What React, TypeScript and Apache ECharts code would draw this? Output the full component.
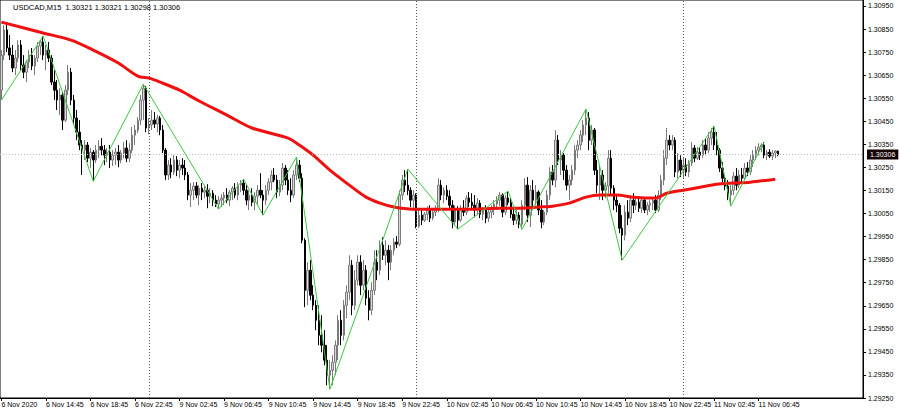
import React, { useEffect, useRef } from "react";
import * as echarts from "echarts";

const chartTitle = "USDCAD,M15  1.30321 1.30321 1.30298 1.30306";

const timeLabels = [
  "6 Nov 2020", "6 Nov 14:45", "6 Nov 18:45", "6 Nov 22:45",
  "9 Nov 02:45", "9 Nov 06:45", "9 Nov 10:45", "9 Nov 14:45", "9 Nov 18:45", "9 Nov 22:45",
  "10 Nov 02:45", "10 Nov 06:45", "10 Nov 10:45", "10 Nov 14:45", "10 Nov 18:45", "10 Nov 22:45",
  "11 Nov 02:45", "11 Nov 06:45",
];
const barsPerLabel = 16;
const totalSlots = 310; // 280 bars + empty chart shift on the right

const priceTicks = [
  1.2925, 1.2935, 1.2945, 1.2955, 1.2965, 1.2975, 1.2985, 1.2995, 1.3005,
  1.3015, 1.3025, 1.3035, 1.3045, 1.3055, 1.3065, 1.3075, 1.3085, 1.3095,
];
const currentPrice = 1.30306;
const daySeparators = [53, 149, 245];

// [open, close, low, high]
const candles: number[][] = [
  [1.30585, 1.30737, 1.30542, 1.30759], [1.30737, 1.30846, 1.30716, 1.30867], [1.30846, 1.30768, 1.30750, 1.30872],
  [1.30768, 1.30737, 1.30716, 1.30824], [1.30737, 1.30681, 1.30663, 1.30781], [1.30681, 1.30724, 1.30650, 1.30759],
  [1.30724, 1.30781, 1.30707, 1.30802], [1.30781, 1.30694, 1.30672, 1.30802], [1.30694, 1.30663, 1.30637, 1.30737],
  [1.30663, 1.30707, 1.30620, 1.30716], [1.30707, 1.30737, 1.30681, 1.30759], [1.30737, 1.30690, 1.30672, 1.30768],
  [1.30690, 1.30724, 1.30650, 1.30737], [1.30724, 1.30776, 1.30707, 1.30794], [1.30776, 1.30794, 1.30737, 1.30802],
  [1.30794, 1.30737, 1.30716, 1.30820], [1.30737, 1.30759, 1.30672, 1.30781], [1.30759, 1.30724, 1.30707, 1.30794],
  [1.30724, 1.30620, 1.30607, 1.30737], [1.30620, 1.30585, 1.30542, 1.30672], [1.30585, 1.30542, 1.30499, 1.30629],
  [1.30542, 1.30564, 1.30477, 1.30594], [1.30564, 1.30455, 1.30412, 1.30577], [1.30455, 1.30585, 1.30447, 1.30607],
  [1.30585, 1.30663, 1.30564, 1.30694], [1.30663, 1.30542, 1.30520, 1.30681], [1.30542, 1.30464, 1.30434, 1.30564],
  [1.30464, 1.30403, 1.30368, 1.30499], [1.30403, 1.30347, 1.30325, 1.30455], [1.30347, 1.30325, 1.30217, 1.30368],
  [1.30325, 1.30347, 1.30282, 1.30368], [1.30347, 1.30290, 1.30273, 1.30360], [1.30290, 1.30316, 1.30247, 1.30334],
  [1.30316, 1.30282, 1.30190, 1.30325], [1.30282, 1.30325, 1.30269, 1.30347], [1.30325, 1.30342, 1.30290, 1.30368],
  [1.30342, 1.30325, 1.30303, 1.30377], [1.30325, 1.30303, 1.30260, 1.30347], [1.30303, 1.30316, 1.30273, 1.30334],
  [1.30316, 1.30282, 1.30247, 1.30347], [1.30282, 1.30303, 1.30256, 1.30325], [1.30303, 1.30316, 1.30260, 1.30334],
  [1.30316, 1.30282, 1.30251, 1.30347], [1.30282, 1.30312, 1.30269, 1.30325], [1.30312, 1.30334, 1.30290, 1.30360],
  [1.30334, 1.30290, 1.30273, 1.30368], [1.30290, 1.30325, 1.30273, 1.30355], [1.30325, 1.30390, 1.30312, 1.30425],
  [1.30390, 1.30412, 1.30347, 1.30434], [1.30412, 1.30455, 1.30399, 1.30468], [1.30455, 1.30542, 1.30434, 1.30564],
  [1.30542, 1.30594, 1.30455, 1.30611], [1.30594, 1.30421, 1.30403, 1.30603], [1.30421, 1.30434, 1.30394, 1.30464],
  [1.30434, 1.30455, 1.30412, 1.30499], [1.30455, 1.30438, 1.30421, 1.30490], [1.30438, 1.30464, 1.30403, 1.30477],
  [1.30464, 1.30412, 1.30390, 1.30473], [1.30412, 1.30325, 1.30312, 1.30434], [1.30325, 1.30217, 1.30195, 1.30334],
  [1.30217, 1.30260, 1.30195, 1.30282], [1.30260, 1.30230, 1.30203, 1.30290], [1.30230, 1.30282, 1.30217, 1.30303],
  [1.30282, 1.30238, 1.30212, 1.30299], [1.30238, 1.30260, 1.30203, 1.30282], [1.30260, 1.30247, 1.30217, 1.30290],
  [1.30247, 1.30217, 1.30195, 1.30282], [1.30217, 1.30130, 1.30108, 1.30230], [1.30130, 1.30151, 1.30078, 1.30182],
  [1.30151, 1.30169, 1.30108, 1.30186], [1.30169, 1.30130, 1.30117, 1.30186], [1.30130, 1.30160, 1.30086, 1.30173],
  [1.30160, 1.30143, 1.30108, 1.30182], [1.30143, 1.30151, 1.30117, 1.30173], [1.30151, 1.30125, 1.30073, 1.30177],
  [1.30125, 1.30138, 1.30095, 1.30160], [1.30138, 1.30108, 1.30082, 1.30151], [1.30108, 1.30091, 1.30078, 1.30130],
  [1.30091, 1.30108, 1.30069, 1.30125], [1.30108, 1.30117, 1.30078, 1.30134], [1.30117, 1.30130, 1.30086, 1.30143],
  [1.30130, 1.30108, 1.30095, 1.30160], [1.30108, 1.30143, 1.30082, 1.30151], [1.30143, 1.30160, 1.30108, 1.30169],
  [1.30160, 1.30130, 1.30117, 1.30182], [1.30130, 1.30173, 1.30108, 1.30186], [1.30173, 1.30182, 1.30143, 1.30195],
  [1.30182, 1.30151, 1.30130, 1.30199], [1.30151, 1.30108, 1.30086, 1.30173], [1.30108, 1.30130, 1.30065, 1.30151],
  [1.30130, 1.30099, 1.30082, 1.30160], [1.30099, 1.30125, 1.30065, 1.30143], [1.30125, 1.30151, 1.30086, 1.30173],
  [1.30151, 1.30130, 1.30117, 1.30225], [1.30130, 1.30108, 1.30043, 1.30151], [1.30108, 1.30151, 1.30086, 1.30173],
  [1.30151, 1.30186, 1.30130, 1.30203], [1.30186, 1.30217, 1.30151, 1.30238], [1.30217, 1.30195, 1.30186, 1.30247],
  [1.30195, 1.30143, 1.30117, 1.30217], [1.30143, 1.30173, 1.30125, 1.30195], [1.30173, 1.30247, 1.30151, 1.30269],
  [1.30247, 1.30195, 1.30173, 1.30260], [1.30195, 1.30151, 1.30130, 1.30238], [1.30151, 1.30130, 1.30099, 1.30203],
  [1.30130, 1.30217, 1.30117, 1.30238], [1.30217, 1.30260, 1.30195, 1.30295], [1.30260, 1.30203, 1.30186, 1.30282],
  [1.30203, 1.29934, 1.29921, 1.30225], [1.29934, 1.29717, 1.29644, 1.29943], [1.29717, 1.29804, 1.29652, 1.29839],
  [1.29804, 1.29696, 1.29674, 1.29848], [1.29696, 1.29652, 1.29631, 1.29739], [1.29652, 1.29587, 1.29544, 1.29674],
  [1.29587, 1.29522, 1.29479, 1.29652], [1.29522, 1.29479, 1.29448, 1.29609], [1.29479, 1.29414, 1.29392, 1.29544],
  [1.29414, 1.29349, 1.29305, 1.29479], [1.29349, 1.29370, 1.29288, 1.29414], [1.29370, 1.29405, 1.29305, 1.29435],
  [1.29405, 1.29479, 1.29349, 1.29500], [1.29479, 1.29587, 1.29414, 1.29609], [1.29587, 1.29522, 1.29479, 1.29631],
  [1.29522, 1.29652, 1.29500, 1.29674], [1.29652, 1.29709, 1.29596, 1.29739], [1.29709, 1.29826, 1.29674, 1.29869],
  [1.29826, 1.29652, 1.29609, 1.29848], [1.29652, 1.29761, 1.29631, 1.29804], [1.29761, 1.29839, 1.29739, 1.29869],
  [1.29839, 1.29739, 1.29696, 1.29869], [1.29739, 1.29804, 1.29717, 1.29848], [1.29804, 1.29683, 1.29652, 1.29826],
  [1.29683, 1.29631, 1.29587, 1.29717], [1.29631, 1.29717, 1.29609, 1.29752], [1.29717, 1.29839, 1.29696, 1.29891],
  [1.29839, 1.29804, 1.29761, 1.29891], [1.29804, 1.29913, 1.29783, 1.29934], [1.29913, 1.29869, 1.29848, 1.29947],
  [1.29869, 1.29891, 1.29826, 1.29934], [1.29891, 1.29839, 1.29761, 1.29913], [1.29839, 1.29891, 1.29804, 1.29913],
  [1.29891, 1.29926, 1.29869, 1.29943], [1.29926, 1.29917, 1.29900, 1.29952], [1.29917, 1.30130, 1.29908, 1.30151],
  [1.30130, 1.30195, 1.30108, 1.30217], [1.30195, 1.30173, 1.30143, 1.30238], [1.30173, 1.30151, 1.30130, 1.30243],
  [1.30151, 1.30108, 1.30078, 1.30164], [1.30108, 1.30130, 1.30073, 1.30151], [1.30130, 1.29995, 1.29986, 1.30138],
  [1.29995, 1.30043, 1.29986, 1.30065], [1.30043, 1.30021, 1.30000, 1.30065], [1.30021, 1.30047, 1.30013, 1.30056],
  [1.30047, 1.30065, 1.30021, 1.30082], [1.30065, 1.30030, 1.30013, 1.30086], [1.30030, 1.30056, 1.30021, 1.30073],
  [1.30056, 1.30073, 1.30039, 1.30086], [1.30073, 1.30173, 1.30056, 1.30203], [1.30173, 1.30130, 1.30108, 1.30195],
  [1.30130, 1.30151, 1.30095, 1.30164], [1.30151, 1.30125, 1.30108, 1.30173], [1.30125, 1.30086, 1.30065, 1.30151],
  [1.30086, 1.30013, 1.29986, 1.30108], [1.30013, 1.30065, 1.30000, 1.30086], [1.30065, 1.30021, 1.29982, 1.30082],
  [1.30021, 1.30073, 1.30013, 1.30086], [1.30073, 1.30056, 1.30039, 1.30108], [1.30056, 1.30117, 1.30043, 1.30130],
  [1.30117, 1.30099, 1.30078, 1.30143], [1.30099, 1.30086, 1.30065, 1.30138], [1.30086, 1.30065, 1.30034, 1.30130],
  [1.30065, 1.30095, 1.30043, 1.30117], [1.30095, 1.30047, 1.30030, 1.30108], [1.30047, 1.30065, 1.30021, 1.30078],
  [1.30065, 1.30030, 1.30008, 1.30086], [1.30030, 1.30056, 1.30013, 1.30073], [1.30056, 1.30069, 1.30030, 1.30086],
  [1.30069, 1.30091, 1.30043, 1.30108], [1.30091, 1.30108, 1.30065, 1.30125], [1.30108, 1.30130, 1.30082, 1.30143],
  [1.30130, 1.30056, 1.30034, 1.30138], [1.30056, 1.30117, 1.30043, 1.30130], [1.30117, 1.30099, 1.30086, 1.30147],
  [1.30099, 1.30047, 1.30030, 1.30117], [1.30047, 1.30021, 1.30000, 1.30082], [1.30021, 1.30043, 1.30004, 1.30065],
  [1.30043, 1.30004, 1.29986, 1.30056], [1.30004, 1.30086, 1.29982, 1.30108], [1.30086, 1.30173, 1.30065, 1.30203],
  [1.30173, 1.30043, 1.30013, 1.30208], [1.30043, 1.30151, 1.29991, 1.30173], [1.30151, 1.30108, 1.30065, 1.30195],
  [1.30108, 1.30143, 1.30086, 1.30173], [1.30143, 1.30065, 1.30043, 1.30151], [1.30065, 1.30013, 1.29986, 1.30108],
  [1.30013, 1.30056, 1.30000, 1.30065], [1.30056, 1.30130, 1.30043, 1.30151], [1.30130, 1.30230, 1.30108, 1.30251],
  [1.30230, 1.30195, 1.30173, 1.30260], [1.30195, 1.30368, 1.30164, 1.30412], [1.30368, 1.30282, 1.30260, 1.30390],
  [1.30282, 1.30303, 1.30217, 1.30325], [1.30303, 1.30238, 1.30195, 1.30312], [1.30238, 1.30173, 1.30151, 1.30260],
  [1.30173, 1.30195, 1.30108, 1.30217], [1.30195, 1.30238, 1.30173, 1.30260], [1.30238, 1.30325, 1.30217, 1.30347],
  [1.30325, 1.30347, 1.30290, 1.30368], [1.30347, 1.30390, 1.30325, 1.30412], [1.30390, 1.30434, 1.30360, 1.30455],
  [1.30434, 1.30464, 1.30390, 1.30503], [1.30464, 1.30368, 1.30325, 1.30490], [1.30368, 1.30412, 1.30347, 1.30434],
  [1.30412, 1.30238, 1.30217, 1.30421], [1.30238, 1.30173, 1.30138, 1.30282], [1.30173, 1.30217, 1.30108, 1.30260],
  [1.30217, 1.30151, 1.30108, 1.30238], [1.30151, 1.30169, 1.30117, 1.30186], [1.30169, 1.30290, 1.30138, 1.30325],
  [1.30290, 1.30160, 1.30130, 1.30325], [1.30160, 1.30108, 1.30065, 1.30173], [1.30108, 1.30086, 1.30056, 1.30130],
  [1.30086, 1.29986, 1.29965, 1.30095], [1.29986, 1.29956, 1.29848, 1.30043], [1.29956, 1.30056, 1.29934, 1.30086],
  [1.30056, 1.30030, 1.30000, 1.30108], [1.30030, 1.30108, 1.30013, 1.30130], [1.30108, 1.30086, 1.30052, 1.30138],
  [1.30086, 1.30099, 1.30065, 1.30117], [1.30099, 1.30073, 1.30056, 1.30125], [1.30073, 1.30108, 1.30052, 1.30121],
  [1.30108, 1.30065, 1.30052, 1.30117], [1.30065, 1.30086, 1.30043, 1.30099], [1.30086, 1.30095, 1.30056, 1.30108],
  [1.30095, 1.30108, 1.30065, 1.30121], [1.30108, 1.30065, 1.30052, 1.30130], [1.30065, 1.30130, 1.30056, 1.30151],
  [1.30130, 1.30195, 1.30108, 1.30217], [1.30195, 1.30290, 1.30173, 1.30325], [1.30290, 1.30368, 1.30260, 1.30421],
  [1.30368, 1.30347, 1.30325, 1.30390], [1.30347, 1.30368, 1.30325, 1.30390], [1.30368, 1.30230, 1.30208, 1.30381],
  [1.30230, 1.30282, 1.30203, 1.30312], [1.30282, 1.30238, 1.30208, 1.30303], [1.30238, 1.30260, 1.30203, 1.30295],
  [1.30260, 1.30230, 1.30212, 1.30290], [1.30230, 1.30269, 1.30208, 1.30282], [1.30269, 1.30334, 1.30256, 1.30360],
  [1.30334, 1.30290, 1.30273, 1.30347], [1.30290, 1.30316, 1.30282, 1.30338], [1.30316, 1.30303, 1.30282, 1.30338],
  [1.30303, 1.30347, 1.30290, 1.30368], [1.30347, 1.30325, 1.30303, 1.30377], [1.30325, 1.30377, 1.30312, 1.30403],
  [1.30377, 1.30403, 1.30347, 1.30421], [1.30403, 1.30347, 1.30325, 1.30429], [1.30347, 1.30325, 1.30303, 1.30403],
  [1.30325, 1.30247, 1.30230, 1.30334], [1.30247, 1.30203, 1.30186, 1.30273], [1.30203, 1.30169, 1.30151, 1.30217],
  [1.30169, 1.30130, 1.30108, 1.30195], [1.30130, 1.30151, 1.30082, 1.30173], [1.30151, 1.30212, 1.30130, 1.30230],
  [1.30212, 1.30173, 1.30151, 1.30247], [1.30173, 1.30217, 1.30160, 1.30238], [1.30217, 1.30203, 1.30186, 1.30247],
  [1.30203, 1.30247, 1.30195, 1.30269], [1.30247, 1.30230, 1.30212, 1.30273], [1.30230, 1.30282, 1.30217, 1.30303],
  [1.30282, 1.30303, 1.30251, 1.30325], [1.30303, 1.30325, 1.30282, 1.30342], [1.30325, 1.30338, 1.30303, 1.30355],
  [1.30338, 1.30347, 1.30316, 1.30355], [1.30347, 1.30303, 1.30290, 1.30360], [1.30303, 1.30316, 1.30282, 1.30325],
  [1.30316, 1.30299, 1.30290, 1.30329], [1.30299, 1.30312, 1.30282, 1.30325], [1.30312, 1.30321, 1.30290, 1.30325],
  [1.30321, 1.30306, 1.30298, 1.30321],
];

// moving average: [bar index, price]
const maPoints: number[][] = [
  [0, 1.3088], [15, 1.30833], [25, 1.30802], [33, 1.30759], [42, 1.30703], [49, 1.30646],
  [53, 1.30637], [57, 1.3062], [64, 1.30585], [71, 1.30538], [81, 1.30477], [90, 1.30421],
  [103, 1.30377], [107, 1.30347], [112, 1.30303], [118, 1.30238], [124, 1.30182], [131, 1.30121],
  [136, 1.30095], [141, 1.30078], [148, 1.30069], [158, 1.30069], [168, 1.30069], [179, 1.30073],
  [186, 1.30073], [193, 1.30078], [198, 1.30082], [204, 1.30095], [210, 1.30121], [215, 1.3013],
  [221, 1.3013], [227, 1.30121], [235, 1.30117], [239, 1.30138], [245, 1.30151], [251, 1.30164],
  [257, 1.30177], [263, 1.30182], [269, 1.30186], [278, 1.30199],
];

// zigzag: first point where the line enters the chart, then pivot bars (H = high, L = low)
const zigzagEntry: number[] = [0, 1.30542];
const zigzagPivots: [number, "H" | "L"][] = [
  [15, "H"], [33, "L"], [51, "H"], [78, "L"], [87, "H"], [94, "L"], [106, "H"], [118, "L"],
  [146, "H"], [164, "L"], [182, "H"], [187, "L"], [210, "H"], [223, "L"], [256, "H"], [262, "L"], [274, "H"],
];

const FONT = "'Liberation Sans', Arial, sans-serif";

export default function App() {
  const ref = useRef<HTMLDivElement>(null);

  useEffect(() => {
    if (!ref.current) return;
    const chart = echarts.init(ref.current, undefined, { renderer: "svg" });
    const categories = Array.from({ length: totalSlots }, (_, i) => String(i));
    const zigzag = [
      zigzagEntry,
      ...zigzagPivots.map(([i, t]) => [i, t === "H" ? candles[i][3] : candles[i][2]]),
    ];
    const showAt = (i: number) => i % barsPerLabel === 0 && i / barsPerLabel < timeLabels.length;

    chart.setOption({
      animation: false,
      backgroundColor: "#ffffff",
      textStyle: { fontFamily: FONT },
      grid: {
        left: 0, top: 0, right: 37, bottom: 17,
        show: true, borderColor: "#000", borderWidth: 1,
        outerBoundsMode: "none",
      },
      graphic: [
        {
          type: "text", left: 13, top: 3, z: 100,
          style: { text: chartTitle, fill: "#000", fontSize: 7.5, fontFamily: FONT },
        },
      ],
      xAxis: {
        type: "category",
        data: categories,
        boundaryGap: true,
        axisLine: { show: true, lineStyle: { color: "#000", width: 1 } },
        axisTick: {
          show: true, alignWithLabel: true, length: 3,
          interval: (i: number) => showAt(i),
          lineStyle: { color: "#000" },
        },
        axisLabel: {
          interval: (i: number) => showAt(i),
          formatter: (_v: string, i: number) => timeLabels[i / barsPerLabel] ?? "",
          align: "left", fontSize: 7, color: "#000", margin: 3, fontFamily: FONT,
        },
        splitLine: { show: false },
      },
      yAxis: {
        type: "value",
        position: "right",
        min: 1.2925,
        max: 1.30976,
        axisLine: { show: true, lineStyle: { color: "#000", width: 1 } },
        axisTick: { show: true, customValues: priceTicks, length: 3, lineStyle: { color: "#000" } },
        axisLabel: {
          customValues: priceTicks,
          formatter: (v: number) => v.toFixed(5),
          fontSize: 7, color: "#000", margin: 5, fontFamily: FONT,
        },
        splitLine: { show: false },
      },
      series: [
        {
          type: "candlestick",
          data: candles,
          barWidth: 2,
          itemStyle: {
            color: "#d8d8d8", borderColor: "#7a7a7a",
            color0: "#1a0404", borderColor0: "#000000",
            borderWidth: 1,
          },
          markLine: {
            silent: true,
            symbol: ["none", "none"],
            data: daySeparators.map((i) => ({
              xAxis: i,
              lineStyle: { color: "#555555", type: [1, 2], width: 1 },
              label: { show: false },
            })),
          },
          z: 2,
        },
        {
          type: "line",
          data: maPoints,
          smooth: 0.3,
          showSymbol: false,
          lineStyle: { color: "#f01010", width: 3 },
          markLine: {
            silent: true,
            precision: 5,
            symbol: ["none", "none"],
            data: [
              {
                yAxis: currentPrice,
                lineStyle: { color: "#c0c0c0", type: [1, 2], width: 1 },
                label: {
                  show: true, position: "end", formatter: currentPrice.toFixed(5),
                  backgroundColor: "#140000", color: "#ffffff", fontSize: 7,
                  padding: [2, 3, 1, 3], distance: 4, fontFamily: FONT,
                },
              },
            ],
          },
          z: 3,
        },
        {
          type: "line",
          data: zigzag,
          showSymbol: false,
          lineStyle: { color: "#3cc83c", width: 1 },
          z: 4,
        },
      ],
    });
    return () => chart.dispose();
  }, []);

  return <div ref={ref} style={{ width: 900, height: 415, position: "absolute", left: 0, top: 0 }} />;
}
